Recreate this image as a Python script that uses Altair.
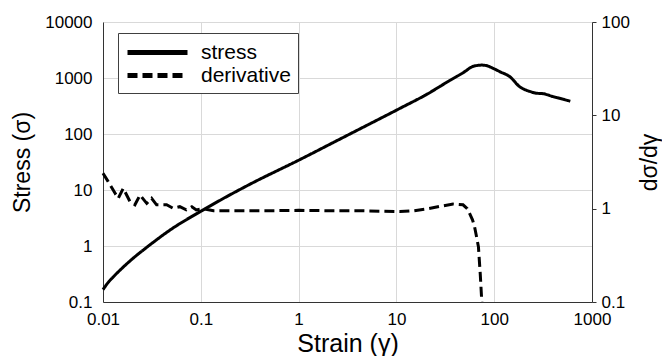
import altair as alt
import pandas as pd

# Stress curve (left axis)
stress_strain = [0.01, 0.0112, 0.0126, 0.0158, 0.02, 0.0282, 0.05, 0.1, 0.316,
                 1, 3.16, 11, 20, 35, 50, 59, 68, 75, 85, 98, 115, 145,
                 182, 235, 270, 316, 400, 500, 600]
stress_vals = [0.166, 0.219, 0.275, 0.407, 0.59, 0.955, 2.0, 4.17, 12.6,
               34, 95, 290, 500, 900, 1300, 1580, 1680, 1700, 1650, 1480, 1290, 1050,
               700, 570, 535, 525, 465, 420, 385]

# Derivative curve (right axis)
deriv_strain = [0.01, 0.0113, 0.0133, 0.0143, 0.0161, 0.0189, 0.0212, 0.0239, 0.028, 0.0314,
                0.0353, 0.0447, 0.052, 0.061, 0.071, 0.081, 0.09, 0.106, 0.135, 0.2,
                0.3, 0.5, 1, 2, 4, 7, 10.9, 15, 20, 28, 38, 48, 53, 56, 60, 63, 66, 69,
                72, 74.5, 75]
deriv_vals = [2.4, 1.95, 1.46, 1.29, 1.65, 1.19, 1.10, 1.40, 1.14, 1.29,
              1.10, 1.10, 1.01, 1.05, 0.97, 1.05, 0.97, 1.0, 0.95, 0.95,
              0.95, 0.95, 0.96, 0.95, 0.95, 0.94, 0.93, 0.95, 0.99, 1.06, 1.12, 1.10, 1.0, 0.89, 0.76, 0.64, 0.5, 0.39,
              0.20, 0.105, 0.1]

x_ticks = [0.01, 0.1, 1, 10, 100, 1000]
left_ticks = [0.1, 1, 10, 100, 1000, 10000]
right_ticks = [0.1, 1, 10, 100]
series_names = ["stress", "derivative"]

df_s = pd.DataFrame({"strain": stress_strain, "value": stress_vals, "series": series_names[0]})
df_d = pd.DataFrame({"strain": deriv_strain, "value": deriv_vals, "series": series_names[1]})

FONT = "Liberation Sans"
AXC = "#333333"

dash = alt.StrokeDash(
    "series:N",
    scale=alt.Scale(domain=series_names, range=[[1, 0], [10, 5]]),
    legend=alt.Legend(
        title=None, orient="none", legendX=15, legendY=11, direction="vertical",
        symbolType="M-1,0H5", symbolSize=400, symbolStrokeWidth=5,
        symbolStrokeColor="black", labelFontSize=21, labelFont=FONT, labelColor="black",
        strokeColor="#404040", fillColor="white", padding=7, rowPadding=0,
        labelOffset=51, cornerRadius=0,
    ),
)

x = alt.X(
    "strain:Q",
    scale=alt.Scale(type="log", domain=[0.01, 1000], nice=False),
    axis=alt.Axis(
        values=x_ticks, format="~g", title="Strain (γ)", ticks=False, labelFlush=False,
        labelFontSize=17, labelPadding=9, labelColor="black", domainColor=AXC,
        gridColor="#d9d9d9", titleFontSize=25, titleFontWeight="normal", titleColor="black",
        titleX=244.5, titleY=49, titleBaseline="alphabetic", titleAlign="center",
    ),
)

stress = alt.Chart(df_s).mark_line(color="black", strokeWidth=3, interpolate="monotone").encode(
    x=x,
    y=alt.Y(
        "value:Q",
        scale=alt.Scale(type="log", domain=[0.1, 10000], nice=False),
        axis=alt.Axis(
            values=left_ticks, format="~g", title="Stress (σ)", ticks=False,
            labelFlush=False, labelFontSize=17, labelPadding=11, labelColor="black",
            domainColor=AXC, gridColor="#d9d9d9", titleFontSize=23,
            titleFontWeight="normal", titleColor="black", titleAngle=270,
            titleX=-74, titleY=140, titleBaseline="alphabetic", titleAlign="center",
        ),
    ),
    strokeDash=dash,
)

deriv = alt.Chart(df_d).mark_line(color="black", strokeWidth=3).encode(
    x=x,
    y=alt.Y(
        "value:Q",
        scale=alt.Scale(type="log", domain=[0.1, 100], nice=False),
        axis=alt.Axis(
            orient="right", values=right_ticks, format="~g", title="dσ/dγ", grid=False,
            ticks=True, tickSize=4, tickColor=AXC, labelFlush=False, labelFontSize=17,
            labelPadding=5, labelColor="black", domainColor=AXC, titleFontSize=23,
            titleFontWeight="normal", titleColor="black", titleAngle=270,
            titleX=64, titleY=140, titleBaseline="alphabetic", titleAlign="center",
        ),
    ),
    strokeDash=dash,
)

chart = (
    alt.layer(stress, deriv)
    .resolve_scale(y="independent")
    .properties(
        width=489, height=280,
        autosize=alt.AutoSizeParams(type="none"),
        padding={"left": 95, "top": 14, "right": 70, "bottom": 54},
    )
    .configure(font=FONT)
    .configure_view(stroke=None)
)

chart.save("out.html", embed_options={"renderer": "svg", "actions": False})
